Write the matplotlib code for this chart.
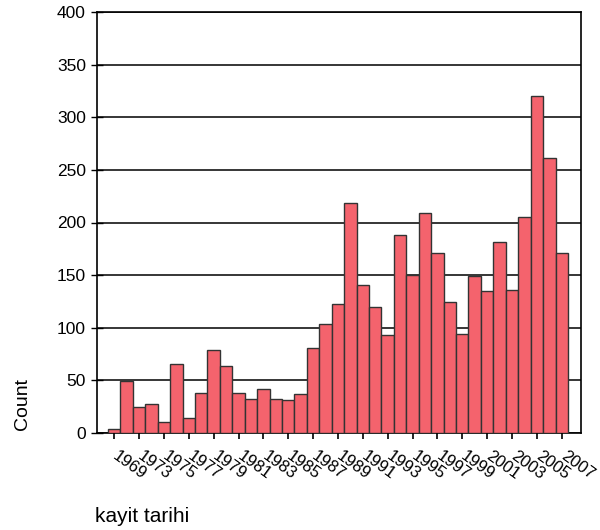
import matplotlib
matplotlib.use("Agg")
import matplotlib.pyplot as plt
from matplotlib.transforms import ScaledTranslation

years = [1969] + list(range(1972, 2008))
counts = [4, 49, 25, 28, 10, 66, 14, 38, 79, 64, 38, 32, 42, 32, 31, 37, 81,
          104, 123, 219, 141, 120, 93, 188, 150, 209, 171, 124, 94, 149, 135,
          181, 136, 205, 320, 261, 171]
yticks = [0, 50, 100, 150, 200, 250, 300, 350, 400]

plt.rcParams['font.family'] = ['Liberation Sans', 'DejaVu Sans']

fig = plt.figure(figsize=(6, 5.3), dpi=100)
ax = fig.add_axes([97/600, 1-433/530, (581-97)/600, (433-12)/530])

x = list(range(len(years)))
ax.bar(x, counts, width=1.0, color='#F4636D', edgecolor='#333333',
       linewidth=1.0, zorder=3)

ax.set_xlim(-1.385, 37.55)
ax.set_ylim(0, 400)
ax.set_yticks(yticks)
ax.set_yticklabels([str(v) for v in yticks], fontsize=12.5)
ax.yaxis.grid(True, color='black', linewidth=1.1, zorder=0)
ax.set_axisbelow(True)

ax.set_xticks(x[::2])
ax.set_xticklabels([str(y) for y in years[::2]], rotation=-36, ha='left',
                   va='top', rotation_mode='anchor', fontsize=12)
ax.tick_params(axis='x', direction='out', length=4, width=1.2, pad=7)
ax.tick_params(axis='y', direction='inout', length=8, width=1.0, pad=4)
off = ScaledTranslation(5/100, 0, fig.dpi_scale_trans)
for lbl in ax.get_xticklabels():
    lbl.set_transform(lbl.get_transform() + off)

for s in ax.spines.values():
    s.set_color('black')
    s.set_linewidth(1.2)

fig.text(22/600, 1-404/530, 'Count', rotation=90, ha='center', va='center',
         fontsize=14)
fig.text(95/600, 1-517/530, 'kayit tarihi', ha='left', va='center',
         fontsize=15)

fig.savefig('out.png', dpi=100)
